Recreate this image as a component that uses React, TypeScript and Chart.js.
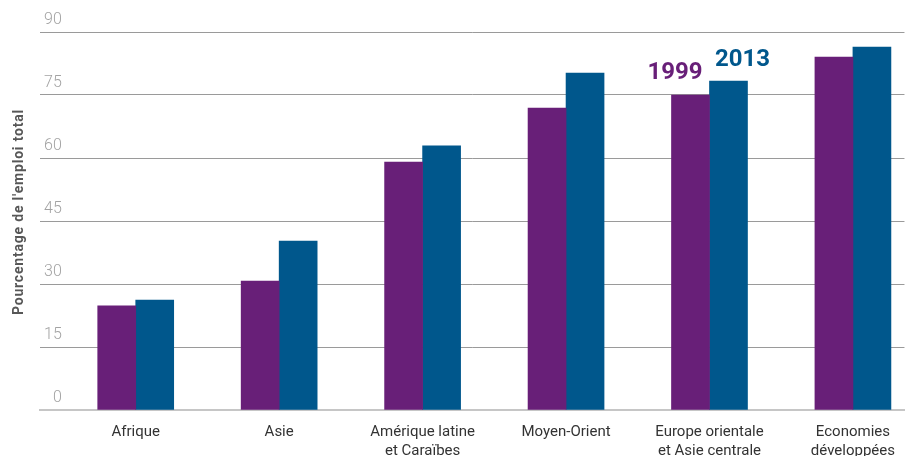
import { useEffect, useRef } from "react";
import { Chart, registerables } from "chart.js";

Chart.register(...registerables);

// Regions on the category axis (multi-line labels)
const categories: string[][] = [
  ["Afrique"],
  ["Asie"],
  ["Amérique latine", "et Caraïbes"],
  ["Moyen-Orient"],
  ["Europe orientale", "et Asie centrale"],
  ["Economies", "développées"],
];

// Share of total employment, per year
const series1999 = [24.8, 30.7, 59.0, 71.9, 75.0, 84.0];
const series2013 = [26.2, 40.2, 62.9, 80.2, 78.3, 86.4];
const seriesNames = ["1999", "2013"];

// Value axis
const yMin = 0;
const yMax = 90;
const yStep = 15;
const yTitle = "Pourcentage de l'emploi total";

// Category whose bars carry the series names
const labelledCategory = 4;

const PURPLE = "#681f78";
const BLUE = "#00578c";

export default function App() {
  const canvasRef = useRef<HTMLCanvasElement>(null);

  useEffect(() => {
    if (!canvasRef.current) return;

    const seriesLabels = {
      id: "seriesLabels",
      afterDatasetsDraw(chart: any) {
        const ctx = chart.ctx as CanvasRenderingContext2D;
        const b0 = chart.getDatasetMeta(0).data[labelledCategory] as any;
        const b1 = chart.getDatasetMeta(1).data[labelledCategory] as any;
        ctx.save();
        ctx.font = "bold 24px Roboto";
        ctx.textAlign = "center";
        ctx.textBaseline = "alphabetic";
        ctx.fillStyle = PURPLE;
        ctx.fillText(seriesNames[0], b0.x - 15.5, b0.y - 16);
        ctx.fillStyle = BLUE;
        ctx.fillText(seriesNames[1], b1.x + 14, b1.y - 15);
        ctx.restore();
      },
    };

    const axisTitle = {
      id: "axisTitle",
      afterDraw(chart: any) {
        const ctx = chart.ctx as CanvasRenderingContext2D;
        ctx.save();
        ctx.translate(19, 212);
        ctx.rotate(-Math.PI / 2);
        ctx.font = "bold 14px Roboto";
        (ctx as any).letterSpacing = "0.8px";
        ctx.fillStyle = "#575757";
        ctx.textAlign = "center";
        ctx.textBaseline = "middle";
        ctx.fillText(yTitle, 0, 0);
        ctx.restore();
      },
    };

    const chart = new Chart(canvasRef.current, {
      type: "bar",
      data: {
        labels: categories,
        datasets: [
          { label: seriesNames[0], data: series1999, backgroundColor: PURPLE, barThickness: 38 },
          { label: seriesNames[1], data: series2013, backgroundColor: BLUE, barThickness: 38 },
        ],
      },
      options: {
        responsive: false,
        animation: false,
        layout: { padding: { top: 32, left: 0, right: 0, bottom: 0 } },
        plugins: {
          legend: { display: false },
          tooltip: { enabled: false },
        },
        scales: {
          x: {
            grid: { display: false, drawTicks: false },
            border: { display: true, color: "#c6c6c6", width: 2 },
            ticks: {
              color: "#333333",
              font: { family: "Roboto", size: 15, lineHeight: 1.3 },
              padding: 12,
              autoSkip: false,
              maxRotation: 0,
            },
            afterFit: (s: any) => {
              s.height = 46;
            },
            // spread the category slots wider than the plot area on the right
            afterBuildTicks: (s: any) => {
              s._startValue = -0.6673;
              s._valueRange = 6.0267;
            },
          },
          y: {
            min: yMin,
            max: yMax,
            ticks: {
              stepSize: yStep,
              mirror: true,
              crossAlign: "far",
              padding: 4,
              labelOffset: -12,
              color: "#a3a3a3",
              font: { family: "Roboto", size: 16, weight: 300 as any },
            },
            grid: {
              color: (c: any) => (c.tick && c.tick.value === 0 ? "rgba(0,0,0,0)" : "#9a9a9a"),
              lineWidth: 1,
              drawTicks: false,
            },
            border: { display: false },
            afterFit: (s: any) => {
              s.width = 40;
            },
          },
        },
      } as any,
      plugins: [seriesLabels, axisTitle],
    });

    return () => chart.destroy();
  }, []);

  return (
    <div style={{ position: "fixed", left: 0, top: 0, width: 907, height: 456, background: "#fff" }}>
      <canvas ref={canvasRef} width={907} height={456} style={{ display: "block" }} />
    </div>
  );
}
